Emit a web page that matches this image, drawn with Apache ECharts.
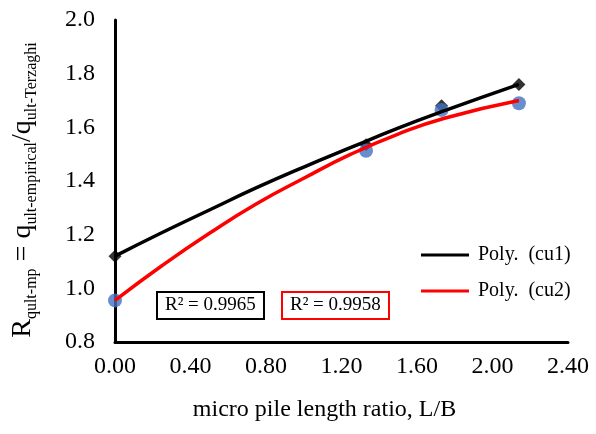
<!DOCTYPE html>
<html>
<head>
<meta charset="utf-8">
<script src="https://cdn.jsdelivr.net/npm/echarts@6/dist/echarts.min.js"></script>
<style>
  html, body { margin: 0; padding: 0; background: #fff; }
  #chart { width: 596px; height: 434px; }
</style>
</head>
<body>
<div id="chart"></div>
<script>
// measured points, L/B
const lengthRatio = [0, 1.33, 1.73, 2.14];
const cu1 = [1.12, 1.535, 1.68, 1.76];
const cu2 = [0.955, 1.513, 1.665, 1.69];

// polynomial trend lines
const trendX = [0, 0.25, 0.5, 0.75, 1.0, 1.25, 1.5, 1.75, 2.14];
const trendCu1 = [1.12, 1.208, 1.292, 1.375, 1.452, 1.525, 1.597, 1.663, 1.76];
const trendCu2 = [0.955, 1.085, 1.205, 1.315, 1.41, 1.50, 1.575, 1.635, 1.70];

const rSquared = ['R\u00b2 = 0.9965', 'R\u00b2 = 0.9958'];
const legendNames = ['Poly.  (cu1)', 'Poly.  (cu2)'];

const serif = 'Liberation Serif';

function pairs(xs, ys) {
    return xs.map(function (x, i) { return [x, ys[i]]; });
}

const chart = echarts.init(document.getElementById('chart'));

const options = {
    animation: false,
    backgroundColor: '#fff',
    grid: { left: 115, right: 28, top: 20, bottom: 92 },
    title: [
        {
            text: rSquared[0], left: 157, top: 292,
            borderColor: '#000', borderWidth: 2, padding: [4, 8, 4, 8],
            textStyle: { fontFamily: serif, fontSize: 19, fontWeight: 'normal', color: '#000' }
        },
        {
            text: rSquared[1], left: 282, top: 292,
            borderColor: '#ff0000', borderWidth: 2, padding: [4, 8, 4, 8],
            textStyle: { fontFamily: serif, fontSize: 19, fontWeight: 'normal', color: '#000' }
        }
    ],
    legend: {
        data: legendNames,
        orient: 'vertical',
        left: 416, top: 240,
        icon: 'rect',
        itemWidth: 48, itemHeight: 3, itemGap: 16,
        textStyle: { fontFamily: serif, fontSize: 20, color: '#000', padding: [0, 0, 0, 4] }
    },
    xAxis: {
        type: 'value',
        min: 0, max: 2.4, interval: 0.4,
        name: 'micro pile length ratio, L/B',
        nameLocation: 'middle',
        nameGap: 56,
        nameTextStyle: { fontFamily: serif, fontSize: 24, color: '#000', padding: [0, 34, 0, 0] },
        axisLine: { lineStyle: { color: '#000', width: 3 } },
        axisTick: { show: false },
        splitLine: { show: false },
        axisLabel: {
            fontFamily: serif, fontSize: 24, color: '#000', margin: 13,
            formatter: function (v) { return v.toFixed(2); }
        }
    },
    yAxis: {
        type: 'value',
        min: 0.8, max: 2.0, interval: 0.2,
        name: '{m|R}{s|qult-mp}{m| = q}{s|ult-empirical}{m|/q}{s|ult-Terzaghi}',
        nameLocation: 'middle',
        nameGap: 75,
        nameTextStyle: {
            padding: [0, 18, 0, 0],
            rich: {
                m: { fontFamily: serif, fontSize: 28, color: '#000', verticalAlign: 'bottom', padding: [0, 0, 3, 0] },
                s: { fontFamily: serif, fontSize: 16, color: '#000', verticalAlign: 'bottom' }
            }
        },
        axisLine: { lineStyle: { color: '#000', width: 3 } },
        axisTick: { show: false },
        splitLine: { show: false },
        axisLabel: {
            fontFamily: serif, fontSize: 24, color: '#000', margin: 20,
            formatter: function (v) { return v.toFixed(1); }
        }
    },
    series: [
        {
            name: 'cu1',
            type: 'scatter',
            symbol: 'diamond',
            symbolSize: 13,
            itemStyle: { color: '#000' },
            data: pairs(lengthRatio, cu1),
            z: 2
        },
        {
            name: 'cu2',
            type: 'scatter',
            symbol: 'circle',
            symbolSize: 14,
            itemStyle: { color: '#4472c4' },
            data: pairs(lengthRatio, cu2),
            z: 3
        },
        {
            name: legendNames[0],
            type: 'line',
            smooth: true,
            showSymbol: false,
            lineStyle: { color: '#000', width: 3.5 },
            itemStyle: { color: '#000' },
            data: pairs(trendX, trendCu1),
            z: 4
        },
        {
            name: legendNames[1],
            type: 'line',
            smooth: true,
            showSymbol: false,
            lineStyle: { color: '#ff0000', width: 3.5 },
            itemStyle: { color: '#ff0000' },
            data: pairs(trendX, trendCu2),
            z: 5
        }
    ]
};

chart.setOption(options);
</script>
</body>
</html>
